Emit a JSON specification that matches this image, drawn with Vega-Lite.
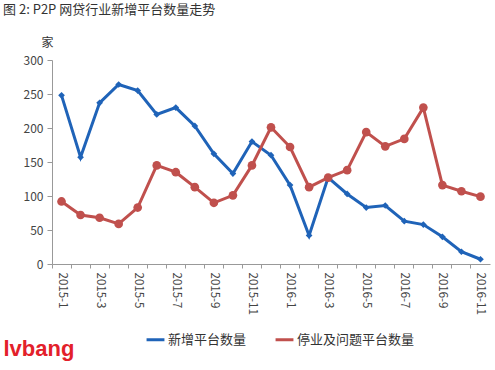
{
  "$schema": "https://vega.github.io/schema/vega-lite/v6.json",
  "width": 438,
  "height": 204,
  "autosize": {"type": "none"},
  "padding": {"left": 52, "top": 60, "right": 5, "bottom": 106},
  "background": "white",
  "title": {
    "text": "图 2: P2P 网贷行业新增平台数量走势",
    "anchor": "start",
    "frame": "group",
    "dx": -49,
    "fontSize": 13,
    "fontWeight": "normal",
    "color": "#333333",
    "font": "Noto Sans CJK SC",
    "offset": 19
  },
  "config": {
    "view": {"stroke": null},
    "font": "Noto Sans CJK SC",
    "axis": {"labelFont": "Noto Sans CJK SC", "labelColor": "#444444", "labelFontSize": 12, "domainColor": "#999999", "tickColor": "#999999"}
  },
  "data": {
    "values": [
      {"month": "2015-1", "series": "新增平台数量", "value": 248},
      {"month": "2015-2", "series": "新增平台数量", "value": 157},
      {"month": "2015-3", "series": "新增平台数量", "value": 237},
      {"month": "2015-4", "series": "新增平台数量", "value": 264},
      {"month": "2015-5", "series": "新增平台数量", "value": 255},
      {"month": "2015-6", "series": "新增平台数量", "value": 220},
      {"month": "2015-7", "series": "新增平台数量", "value": 230},
      {"month": "2015-8", "series": "新增平台数量", "value": 203},
      {"month": "2015-9", "series": "新增平台数量", "value": 162},
      {"month": "2015-10", "series": "新增平台数量", "value": 133},
      {"month": "2015-11", "series": "新增平台数量", "value": 180},
      {"month": "2015-12", "series": "新增平台数量", "value": 160},
      {"month": "2016-1", "series": "新增平台数量", "value": 116},
      {"month": "2016-2", "series": "新增平台数量", "value": 42},
      {"month": "2016-3", "series": "新增平台数量", "value": 127},
      {"month": "2016-4", "series": "新增平台数量", "value": 103},
      {"month": "2016-5", "series": "新增平台数量", "value": 83},
      {"month": "2016-6", "series": "新增平台数量", "value": 86},
      {"month": "2016-7", "series": "新增平台数量", "value": 63},
      {"month": "2016-8", "series": "新增平台数量", "value": 58},
      {"month": "2016-9", "series": "新增平台数量", "value": 40},
      {"month": "2016-10", "series": "新增平台数量", "value": 18},
      {"month": "2016-11", "series": "新增平台数量", "value": 7},
      {"month": "2015-1", "series": "停业及问题平台数量", "value": 92},
      {"month": "2015-2", "series": "停业及问题平台数量", "value": 72},
      {"month": "2015-3", "series": "停业及问题平台数量", "value": 68},
      {"month": "2015-4", "series": "停业及问题平台数量", "value": 59},
      {"month": "2015-5", "series": "停业及问题平台数量", "value": 83},
      {"month": "2015-6", "series": "停业及问题平台数量", "value": 145},
      {"month": "2015-7", "series": "停业及问题平台数量", "value": 135},
      {"month": "2015-8", "series": "停业及问题平台数量", "value": 113},
      {"month": "2015-9", "series": "停业及问题平台数量", "value": 90},
      {"month": "2015-10", "series": "停业及问题平台数量", "value": 101},
      {"month": "2015-11", "series": "停业及问题平台数量", "value": 145},
      {"month": "2015-12", "series": "停业及问题平台数量", "value": 201},
      {"month": "2016-1", "series": "停业及问题平台数量", "value": 172},
      {"month": "2016-2", "series": "停业及问题平台数量", "value": 113},
      {"month": "2016-3", "series": "停业及问题平台数量", "value": 127},
      {"month": "2016-4", "series": "停业及问题平台数量", "value": 138},
      {"month": "2016-5", "series": "停业及问题平台数量", "value": 194},
      {"month": "2016-6", "series": "停业及问题平台数量", "value": 173},
      {"month": "2016-7", "series": "停业及问题平台数量", "value": 184},
      {"month": "2016-8", "series": "停业及问题平台数量", "value": 230},
      {"month": "2016-9", "series": "停业及问题平台数量", "value": 116},
      {"month": "2016-10", "series": "停业及问题平台数量", "value": 107},
      {"month": "2016-11", "series": "停业及问题平台数量", "value": 99}
    ]
  },
  "encoding": {
    "x": {
      "field": "month",
      "type": "ordinal",
      "sort": null,
      "scale": {"type": "band", "paddingInner": 0, "paddingOuter": 0},
      "axis": {
        "title": "lvbang",
        "titleColor": "#e3202a",
        "titleFont": "Liberation Sans",
        "titleFontSize": 22,
        "titleFontWeight": "bold",
        "titleX": -49,
        "titleY": 91,
        "titleAlign": "left",
        "titleAnchor": null,
        "titleBaseline": "alphabetic",
        "bandPosition": 0,
        "labelAngle": 90,
        "labelAlign": "left",
        "labelBaseline": "middle",
        "labelPadding": 4,
        "labelFontSize": 11.5,
        "labelOverlap": false,
        "labelExpr": "toNumber(split(datum.value, '-')[1]) % 2 == 1 ? datum.label : ''",
        "tickSize": 4
      }
    },
    "y": {
      "field": "value",
      "type": "quantitative",
      "scale": {"domain": [0, 300]},
      "axis": {
        "values": [0, 50, 100, 150, 200, 250, 300],
        "grid": false,
        "title": "家",
        "titleAngle": 0,
        "titleX": -5,
        "titleY": -18,
        "titleAlign": "center",
        "titleBaseline": "middle",
        "titleFontSize": 12,
        "titleFontWeight": "normal",
        "titleColor": "#333333",
        "tickSize": 5,
        "labelPadding": 4
      }
    },
    "color": {
      "field": "series",
      "type": "nominal",
      "scale": {"domain": ["新增平台数量", "停业及问题平台数量"], "range": ["#1f63b8", "#c0504d"]},
      "legend": {
        "title": null,
        "orient": "none",
        "direction": "horizontal",
        "legendX": 93,
        "legendY": 269,
        "symbolType": "stroke",
        "symbolSize": 320,
        "symbolStrokeWidth": 3,
        "labelFontSize": 13,
        "labelColor": "#333333",
        "columnPadding": 22,
        "labelOffset": 2
      }
    }
  },
  "layer": [
    {"mark": {"type": "line", "strokeWidth": 3}},
    {
      "transform": [{"filter": "datum.series == '新增平台数量'"}],
      "mark": {"type": "point", "filled": true, "opacity": 1, "shape": "diamond", "size": 45}
    },
    {
      "transform": [{"filter": "datum.series == '停业及问题平台数量'"}],
      "mark": {"type": "point", "filled": true, "opacity": 1, "shape": "circle", "size": 75}
    }
  ]
}
